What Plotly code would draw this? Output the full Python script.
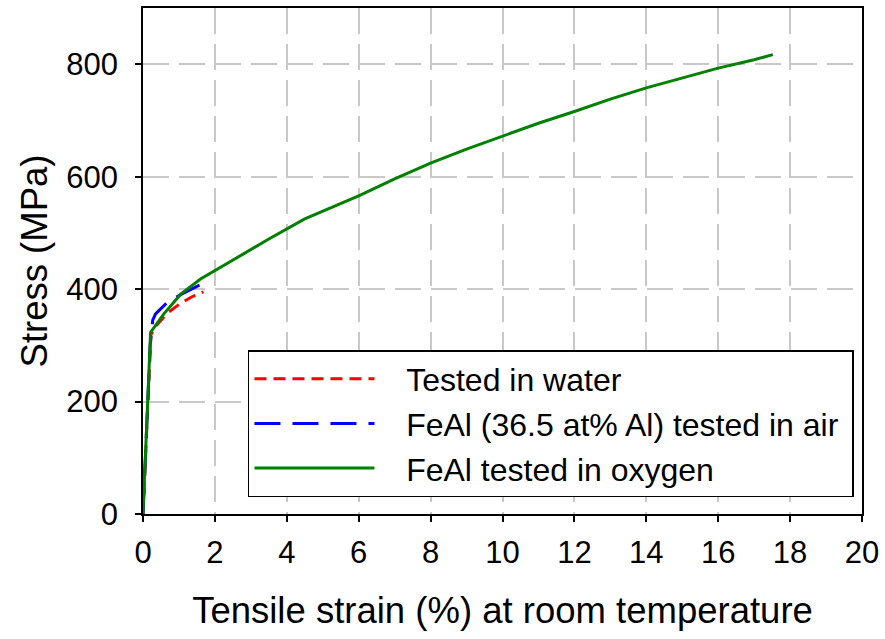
import plotly.graph_objects as go

# Tensile curves: strain (%) vs stress (MPa)
water_strain = [0, 0.22, 0.30, 0.67, 1.03, 1.35, 1.68]
water_stress = [0, 318, 330, 357, 374, 386, 395]

air_strain = [0, 0.20, 0.27, 0.35, 0.67, 1.10, 1.50, 1.84]
air_stress = [0, 300, 345, 356, 376, 392, 405, 414]

oxygen_strain = [0, 0.21, 0.58, 1.05, 1.60, 2.44, 3.50, 4.50, 5.0, 6.0, 7.0, 8.0, 9.0,
                 10.0, 11.0, 12.0, 13.0, 14.0, 15.0, 16.0, 17.0, 17.52]
oxygen_stress = [0, 323, 356, 391, 418, 450, 489, 525, 539, 566, 596, 624, 649,
                 672, 695, 716, 738, 758, 776, 793, 808, 817]

x_ticks = [0, 2, 4, 6, 8, 10, 12, 14, 16, 18, 20]
y_ticks = [0, 200, 400, 600, 800]

FONT = "Liberation Sans, Arial, sans-serif"
PAD = "\u00a0\u00a0\u00a0"  # gap between legend line sample and its label

fig = go.Figure()
fig.add_trace(go.Scatter(
    x=water_strain, y=water_stress, mode="lines", name=PAD + "Tested in water",
    line=dict(color="#ff0000", width=3, dash="12px,7px"),
))
fig.add_trace(go.Scatter(
    x=air_strain, y=air_stress, mode="lines",
    name=PAD + "FeAl (36.5 at% Al) tested in air\u00a0",
    line=dict(color="#0000ff", width=3, dash="26px,12px"),
))
fig.add_trace(go.Scatter(
    x=oxygen_strain, y=oxygen_stress, mode="lines", name=PAD + "FeAl tested in oxygen",
    line=dict(color="#008000", width=3),
))

axis_common = dict(
    showline=True, linecolor="black", linewidth=1.5, mirror=True,
    ticks="outside", ticklen=6, tickwidth=1.5, tickcolor="black",
    showgrid=True, gridcolor="#c8c8c8", gridwidth=1.5, griddash="26px,10px",
    zeroline=False, tickfont=dict(family=FONT, size=31, color="black"),
)

fig.update_xaxes(
    range=[0, 20], tickvals=x_ticks, ticklabelstandoff=4,
    title=dict(text="Tensile strain (%) at room temperature",
               font=dict(family=FONT, size=36.5, color="black"), standoff=28),
    **axis_common,
)
fig.update_yaxes(
    range=[0, 900], tickvals=y_ticks, ticklabelstandoff=11,
    title=dict(text="Stress (MPa)", font=dict(family=FONT, size=36.5, color="black"), standoff=8),
    **axis_common,
)

fig.update_layout(
    width=885, height=639,
    margin=dict(l=143, r=22, t=6, b=125),
    paper_bgcolor="white", plot_bgcolor="white",
    font=dict(family=FONT, color="black"),
    legend=dict(
        x=0.146, y=0.324, xanchor="left", yanchor="top",
        bgcolor="white", bordercolor="black", borderwidth=1.5,
        font=dict(family=FONT, size=32, color="black"),
        itemwidth=120,
    ),
)

fig.write_html("out.html")
